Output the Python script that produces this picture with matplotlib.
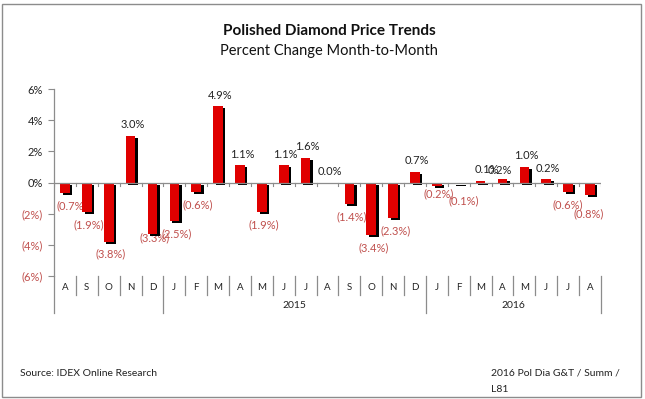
import matplotlib
matplotlib.use("Agg")
import matplotlib.pyplot as plt
from matplotlib.transforms import offset_copy, blended_transform_factory
from matplotlib.patches import Rectangle

plt.rcParams['font.family'] = ['Lato', 'DejaVu Sans']

months = ["A", "S", "O", "N", "D", "J", "F", "M", "A", "M", "J", "J", "A",
          "S", "O", "N", "D", "J", "F", "M", "A", "M", "J", "J", "A"]
values = [-0.7, -1.9, -3.8, 3.0, -3.3, -2.5, -0.6, 4.9, 1.1, -1.9, 1.1, 1.6, 0.0,
          -1.4, -3.4, -2.3, 0.7, -0.2, -0.1, 0.1, 0.2, 1.0, 0.2, -0.6, -0.8]
years = ["2015", "2016"]
year_spans = [(5, 17), (17, 25)]
yticks = [-6, -4, -2, 0, 2, 4, 6]

# small label nudges (pixels) mimicking the reference's label placement
nudges = {0: (5, 0), 4: (0, 9), 17: (0, 4), 18: (3, -4), 19: (4, 0),
          20: (-5, -2), 23: (-2, 0), 24: (-3, -6)}

RED = "#E00000"
NEG = "#C0504D"

W, H = 645, 399
fig = plt.figure(figsize=(W / 100, H / 100), dpi=100)
fig.patch.set_facecolor("white")
fig.patches.append(Rectangle((2 / W, 2 / H), (641 - 2) / W, (397 - 4) / H,
                             transform=fig.transFigure, fill=False,
                             edgecolor="#8c8c8c", lw=1.0))

ax = fig.add_axes([54 / W, 1 - 276 / H, (601 - 54) / W, (276 - 89) / H])
n = len(values)
xs = [i + 0.5 for i in range(n)]
bw = 0.44

shadow_tr = offset_copy(ax.transData, fig=fig, x=2.5, y=-2, units='dots')
ax.bar(xs, values, width=bw, color="black", transform=shadow_tr, zorder=2)
ax.bar(xs, values, width=bw, color=RED, zorder=3)

ax.set_xlim(0, n)
ax.set_ylim(-6, 6)
for s in ["top", "right", "bottom"]:
    ax.spines[s].set_visible(False)
ax.spines["left"].set_color("#8c8c8c")
ax.spines["left"].set_linewidth(0.9)

ax.set_xticks([])
ax.set_yticks(yticks)
ylabels = []
for t in yticks:
    ylabels.append(f"({abs(t)}%)" if t < 0 else f"{t}%")
ax.set_yticklabels(ylabels, fontsize=8)
for lbl, t in zip(ax.get_yticklabels(), yticks):
    lbl.set_color(NEG if t < 0 else "#222222")
ax.tick_params(axis="y", direction="out", length=4, color="#8c8c8c", pad=4)

# zero line with ticks
ax.axhline(0, color="#8c8c8c", lw=0.9, zorder=4)
for b in range(n + 1):
    ax.plot([b, b], [0, -0.2], color="#8c8c8c", lw=0.8, zorder=4)

# data labels (drawn beneath bars, as in the reference)
for i, (x, v) in enumerate(zip(xs, values)):
    dx, dy = nudges.get(i, (0, 0))
    if v < 0:
        txt = f"({abs(v):.1f}%)"
        ax.annotate(txt, (x, v), xytext=(2 + dx, -7 + dy), textcoords="offset points" if False else "offset pixels",
                    ha="center", va="top", fontsize=8, color=NEG, zorder=1.5)
    else:
        txt = f"{v:.1f}%"
        ax.annotate(txt, (x, v), xytext=(2 + dx, 5.5 + dy), textcoords="offset pixels",
                    ha="center", va="bottom", fontsize=8, color="#222222", zorder=1.5)

# multi-level category axis
tr = blended_transform_factory(ax.transData, ax.transAxes)
axh = 276 - 89
def yf(py):
    return (276 - py) / axh

year_bounds = {0, n}
for a, b in year_spans:
    year_bounds.add(a)
    year_bounds.add(b)
for b in range(n + 1):
    bottom = yf(313) if b in year_bounds else yf(295)
    ax.plot([b, b], [yf(276), bottom], color="#8c8c8c", lw=0.9,
            transform=tr, clip_on=False)
for x, m in zip(xs, months):
    ax.text(x, yf(287), m, transform=tr, ha="center", va="center",
            fontsize=7, color="#222222")
for yr, (a, b) in zip(years, year_spans):
    ax.text((a + b) / 2, yf(305), yr, transform=tr, ha="center", va="center",
            fontsize=7.5, color="#222222")

# titles and notes
fig.text(329 / W, 1 - 31 / H, "Polished Diamond Price Trends", ha="center",
         va="center", fontsize=11, fontweight="bold", color="#111111")
fig.text(329 / W, 1 - 51 / H, "Percent Change Month-to-Month", ha="center",
         va="center", fontsize=10.5, color="#111111")
fig.text(20 / W, 1 - 373 / H, "Source: IDEX Online Research", ha="left",
         va="center", fontsize=7.5, color="#222222")
fig.text(491 / W, 1 - 373 / H, "2016 Pol Dia G&T / Summ /", ha="left",
         va="center", fontsize=7.5, color="#222222")
fig.text(491 / W, 1 - 389 / H, "L81", ha="left",
         va="center", fontsize=7.5, color="#222222")

fig.savefig("out.png", dpi=100)
